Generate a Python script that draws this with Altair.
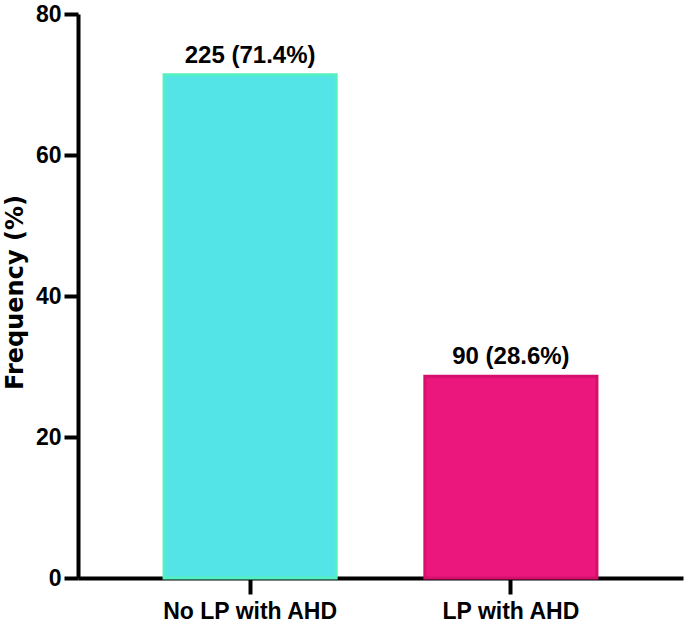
import altair as alt
import pandas as pd

# Groups, their share of patients (%) and raw counts
groups = ["No LP with AHD", "LP with AHD"]
percent = [71.4, 28.6]
counts = [225, 90]
fill_colors = ["#52e4e6", "#ec177c"]
edge_colors = ["#55f0c2", "#d5106c"]

df = pd.DataFrame({
    "group": groups,
    "percent": percent,
    "count": counts,
    "fill": fill_colors,
    "edge": edge_colors,
})
df["label"] = [f"{c} ({p}%)" for c, p in zip(df["count"], df["percent"])]

sans = "Liberation Sans, Arial"

x = alt.X(
    "group:N",
    sort=groups,
    scale=alt.Scale(paddingInner=0.34, paddingOuter=0.33),
    axis=alt.Axis(
        title=None,
        labelAngle=0,
        labelLimit=0,
        labelFont=sans,
        labelFontWeight="bold",
        labelFontSize=23,
        labelColor="black",
        labelPadding=6,
        domainColor="black",
        domainWidth=4,
        tickColor="black",
        tickWidth=4,
        tickSize=16,
    ),
)

y = alt.Y(
    "percent:Q",
    scale=alt.Scale(domain=[0, 80], nice=False),
    axis=alt.Axis(
        title="Frequency (%)",
        values=[0, 20, 40, 60, 80],
        grid=False,
        labelFont=sans,
        labelFontWeight="bold",
        labelFontSize=23,
        labelColor="black",
        labelPadding=3,
        domainColor="black",
        domainWidth=4,
        tickColor="black",
        tickWidth=4,
        tickSize=14,
        titleFont="DejaVu Sans",
        titleFontWeight="bold",
        titleFontSize=24,
        titleLimit=0,
        titleColor="black",
        titleAngle=270,
        titleAlign="center",
        titleBaseline="middle",
        titleX=-63,
        titleY=278,
    ),
)

bars = alt.Chart(df).mark_bar(strokeWidth=3).encode(
    x=x,
    y=y,
    fill=alt.Fill("fill:N", scale=None),
    stroke=alt.Stroke("edge:N", scale=None),
)

labels = alt.Chart(df).mark_text(
    baseline="bottom",
    dy=-7,
    font=sans,
    fontWeight="bold",
    fontSize=24,
    color="black",
).encode(
    x=alt.X("group:N", sort=groups),
    y=alt.Y("percent:Q"),
    text="label:N",
)

chart = (
    alt.layer(bars, labels)
    .properties(
        width=605,
        height=564,
        background="white",
        autosize=alt.AutoSizeParams(type="none"),
        padding={"left": 78, "top": 14, "right": 2, "bottom": 50},
    )
    .configure_view(strokeWidth=0, stroke="transparent")
)

chart.save("out.html", embed_options={"renderer": "svg", "actions": False})
